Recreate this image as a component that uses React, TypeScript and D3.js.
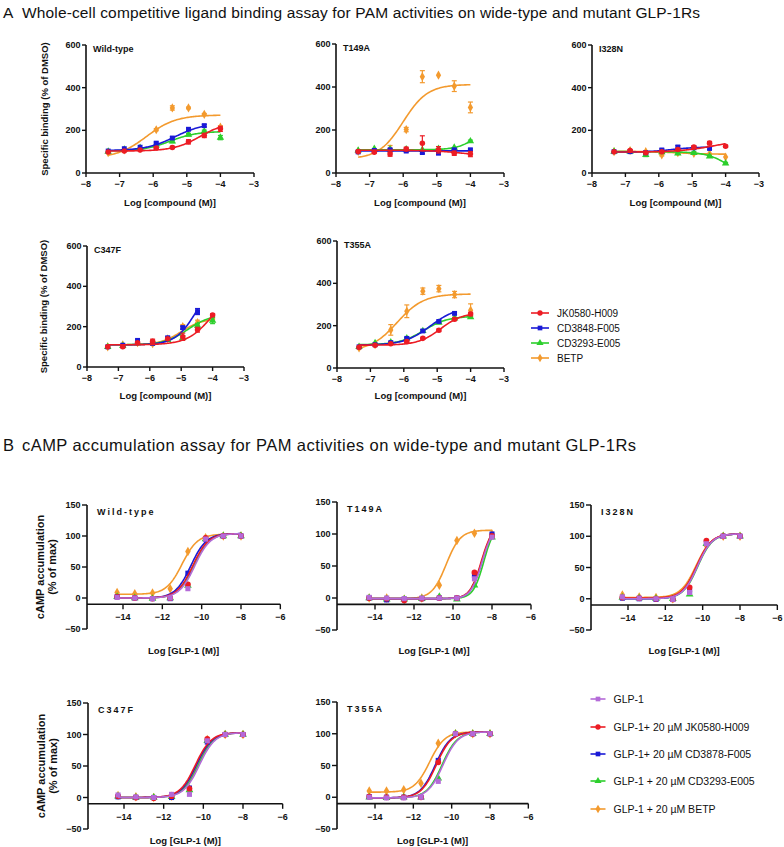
import * as d3 from 'd3'

const FONT = 'Arial, "Liberation Sans", Helvetica, sans-serif'

// ---------- A: whole-cell binding (log [compound]) ----------
const BIND_X = [-7.34, -6.86, -6.39, -5.91, -5.43, -4.95, -4.48, -4.0]
const BIND_NAMES = ['JK0580-H009', 'CD3848-F005', 'CD3293-E005', 'BETP']
const BIND_COLORS = ['#ec1c24', '#1a1ad6', '#2ccf2c', '#f39a2e']
const BIND_SYMBOLS = [d3.symbolCircle, d3.symbolSquare, d3.symbolTriangle, d3.symbolDiamond]
const BIND_Y_TICKS = [0, 200, 400, 600]
const BIND_X_TICKS = [-8, -7, -6, -5, -4, -3]

// rows: JK0580, CD3848, CD3293, BETP ; fits: [bottom, top, logEC50, hill]
const BIND_WT = [
  [98, 103, 108, 117, 120, 146, 176, 207],
  [103, 114, 121, 140, 164, 205, 222, null],
  [100, 110, 118, 130, 148, 180, 195, 166],
  [95, 108, 115, 203, 305, 305, 275, 215],
]
const BIND_WT_FIT = [[103, 240, -4.6, 1.1], [105, 235, -5.35, 1], [103, 195, -5.5, 1.1], [70, 272, -6.2, 1]]
const BIND_WT_ERR = [[3, 3, 3, 5, 5, 10, 10, 12], [3, 3, 3, 5, 6, 6, 6, 0], [3, 3, 3, 4, 6, 6, 6, 10], [3, 3, 3, 5, 10, 4, 4, 6]]

const BIND_T149A = [
  [100, 97, 88, 112, 138, 108, 92, 88],
  [98, 105, 108, 102, 95, 92, 108, 108],
  [105, 112, 110, 110, 108, 112, 118, 148],
  [100, 105, 113, 202, 448, 455, 404, 305],
]
const BIND_T149A_FIT = [[106, 80, -4.3, 1], [103, 103, -5, 1], [108, 228, -3.8, 1.5], [65, 412, -6.0, 1.2]]
const BIND_T149A_ERR = [[5, 5, 10, 8, 35, 15, 10, 12], [4, 4, 4, 4, 5, 5, 4, 4], [3, 3, 3, 3, 3, 3, 3, 5], [3, 3, 15, 10, 28, 0, 25, 25]]

const BIND_I328N = [
  [100, 105, 95, 100, 110, 122, 140, 125],
  [100, 100, 95, 108, 122, 118, 115, null],
  [100, 100, 85, 98, 92, 95, 78, 45],
  [100, 105, 100, 85, 95, 92, 90, 75],
]
const BIND_I328N_FIT = [[98, 160, -4.3, 0.8], [98, 122, -5.6, 1.2], [100, -50, -3.8, 1.2], [102, 88, -5.5, 1]]
const BIND_I328N_ERR = [[3, 5, 5, 5, 5, 5, 8, 5], [3, 3, 5, 5, 6, 5, 5, 0], [3, 3, 8, 5, 5, 5, 5, 5], [3, 3, 5, 5, 5, 5, 3, 3]]

const BIND_C347F = [
  [100, 100, 120, 128, 140, 150, 185, 258],
  [100, 108, 132, 118, 145, 195, 275, null],
  [100, 105, 118, 120, 135, 145, 205, 230],
  [100, 110, 120, 115, 140, 200, 220, 240],
]
const BIND_C347F_FIT = [[110, 400, -4.0, 1.1], [110, 450, -4.5, 1.3], [110, 260, -4.8, 1.2], [110, 240, -5.0, 1.3]]
const BIND_C347F_ERR = [[3, 5, 5, 10, 5, 18, 12, 6], [3, 5, 6, 8, 5, 8, 15, 0], [3, 3, 5, 5, 5, 10, 10, 15], [3, 3, 5, 8, 5, 10, 12, 6]]

const BIND_T355A = [
  [98, 108, 115, 125, 140, 178, 230, 255],
  [100, 110, 120, 140, 175, 220, 258, null],
  [100, 118, 122, 140, 175, 215, 235, 240],
  [95, 110, 180, 268, 363, 375, 347, 273],
]
const BIND_T355A_FIT = [[108, 262, -4.9, 1.3], [108, 290, -5.2, 1.1], [110, 245, -5.4, 1.2], [80, 350, -6.2, 1.1]]
const BIND_T355A_ERR = [[3, 3, 3, 5, 5, 6, 6, 8], [3, 3, 4, 5, 6, 6, 6, 0], [3, 3, 3, 5, 5, 5, 5, 5], [5, 5, 25, 30, 15, 15, 15, 30]]

// ---------- B: cAMP accumulation (log [GLP-1]) ----------
const CAMP_X = [-14.3, -13.4, -12.5, -11.6, -10.7, -9.8, -8.9, -8.0]
const CAMP_NAMES = ['GLP-1', 'GLP-1+ 20 µM JK0580-H009', 'GLP-1+ 20 µM CD3878-F005', 'GLP-1 + 20 µM CD3293-E005', 'GLP-1 + 20 µM BETP']
const CAMP_COLORS = ['#b46ad8', '#ec1c24', '#1a1ad6', '#2ccf2c', '#f39a2e']
const CAMP_SYMBOLS = [d3.symbolSquare, d3.symbolCircle, d3.symbolSquare, d3.symbolTriangle, d3.symbolDiamond]
const CAMP_Y_TICKS = [-50, 0, 50, 100, 150]
const CAMP_X_TICKS = [-14, -12, -10, -8, -6]

// rows: GLP-1, JK0580, CD3878, CD3293, BETP
const CAMP_WT = [
  [1, 0, -1, 0, 15, 95, 100, 100],
  [2, 0, -1, 0, 22, 97, 100, 100],
  [2, 0, -1, -1, 40, 95, 100, 100],
  [2, 0, -1, 0, 20, 95, 100, 100],
  [9, 7, 8, 15, 75, 97, 100, 100],
]
const CAMP_WT_FIT = [[0, 104, -10.35, 1.1], [0, 104, -10.45, 1.1], [0, 104, -10.55, 1.1], [0, 104, -10.4, 1.1], [6, 103, -11.0, 1.1]]

const CAMP_T149A = [
  [1, 0, -1, 0, 0, 0, 30, 95],
  [0, -1, -4, -1, 0, 0, 40, 97],
  [0, -3, -2, -1, 0, 0, 35, 100],
  [0, -2, -2, -1, 2, -2, 20, 95],
  [0, 0, -2, 0, 20, 90, 101, 100],
]
const CAMP_T149A_FIT = [[-1, 115, -8.5, 1.5], [-1, 115, -8.55, 1.5], [-1, 115, -8.52, 1.5], [-1, 115, -8.42, 1.6], [-1, 106, -10.35, 1.2]]

const CAMP_I328N = [
  [3, 1, 0, -1, 10, 88, 100, 100],
  [2, 1, 0, -1, 18, 93, 100, 100],
  [1, 0, -1, -1, 12, 90, 100, 100],
  [2, 1, 0, 0, 7, 88, 100, 100],
  [6, 3, 2, 0, 12, 85, 100, 100],
]
const CAMP_I328N_FIT = [[0, 104, -10.28, 1.1], [1, 104, -10.32, 1.1], [0, 104, -10.3, 1.1], [0, 104, -10.26, 1.1], [2, 104, -10.35, 1.05]]

const CAMP_C347F = [
  [4, 1, 0, 5, 5, 90, 100, 100],
  [2, 0, -1, 2, 14, 93, 100, 100],
  [1, 0, 0, 0, 15, 88, 100, 100],
  [2, 0, 0, 1, 12, 90, 100, 100],
  [3, 1, 0, 2, 14, 92, 100, 100],
]
const CAMP_C347F_FIT = [[0, 103, -10.2, 1.1], [0, 103, -10.4, 1.1], [0, 103, -10.35, 1.1], [0, 103, -10.25, 1.1], [0, 103, -10.3, 1.1]]

const CAMP_T355A = [
  [0, -1, -1, 0, 25, 100, 100, 100],
  [1, 0, 0, 0, 55, 100, 100, 100],
  [1, 0, 0, 0, 58, 100, 100, 100],
  [0, -1, 0, 0, 30, 100, 100, 100],
  [10, 10, 12, 22, 85, 100, 100, 100],
]
const CAMP_T355A_FIT = [[-1, 103, -10.45, 1.1], [-1, 103, -10.8, 1.1], [-1, 103, -10.85, 1.1], [-1, 103, -10.5, 1.1], [8, 103, -11.15, 1.1]]

function logistic(f: number[], x: number) {
  const [bottom, top, ec50, hill] = f
  return bottom + (top - bottom) / (1 + Math.pow(10, (ec50 - x) * hill))
}

interface PanelProps {
  xScale: d3.ScaleLinear<number, number>
  yScale: d3.ScaleLinear<number, number>
  axisX: number
  xAxisValue: number
  xTicks: number[]
  yTicks: number[]
  tickLen: number
  tickDy: number
  fontSize: number
  title: string
  titleDx: number
  titleDy: number
  titleSpacing: number
  xLabel: string
  xLabelY: number
  yLabel?: string[]
  yLabelX?: number[]
  yLabelSize?: number
  xValues: number[]
  rows: (number | null)[][]
  fits: number[][]
  errs?: number[][]
  colors: string[]
  symbols: d3.SymbolType[]
  order: number[]
  symSize: number
}

function Panel(p: PanelProps) {
  const x = p.xScale
  const y = p.yScale
  const yTop = y(p.yTicks[p.yTicks.length - 1])
  const yBot = y(p.yTicks[0])
  const axisY = y(p.xAxisValue)
  const xEndPx = x(p.xTicks[p.xTicks.length - 1])
  const mid = (p.axisX + xEndPx) / 2
  const midY = (yTop + yBot) / 2

  return (
    <g fontFamily={FONT} fontWeight="bold" fill="#111">
      {/* fitted curves + points */}
      {p.order.map(si => {
        const row = p.rows[si]
        const xs = p.xValues.filter((_, i) => row[i] != null)
        const lo = d3.min(xs)!
        const hi = d3.max(xs)!
        const samples = d3.range(0, 101).map(k => lo + (hi - lo) * k / 100)
        const path = d3.line<number>()
          .x(d => x(d))
          .y(d => y(logistic(p.fits[si], d)))(samples)
        const sym = d3.symbol().type(p.symbols[si]).size(p.symSize)()
        return (
          <g key={si}>
            <path d={path ?? ''} fill="none" stroke={p.colors[si]} strokeWidth={1.6} />
            {row.map((v, i) => {
              if (v == null) return null
              const cx = x(p.xValues[i])
              const cy = y(v)
              const e = p.errs ? p.errs[si][i] : 0
              return (
                <g key={i}>
                  {e > 3 && (
                    <g stroke={p.colors[si]} strokeWidth={1.2}>
                      <line x1={cx} x2={cx} y1={y(v - e)} y2={y(v + e)} />
                      <line x1={cx - 2.5} x2={cx + 2.5} y1={y(v - e)} y2={y(v - e)} />
                      <line x1={cx - 2.5} x2={cx + 2.5} y1={y(v + e)} y2={y(v + e)} />
                    </g>
                  )}
                  <path d={sym ?? ''} transform={`translate(${cx},${cy})`} fill={p.colors[si]} />
                </g>
              )
            })}
          </g>
        )
      })}

      {/* y axis */}
      <line x1={p.axisX} x2={p.axisX} y1={yBot} y2={yTop} stroke="#111" strokeWidth={1.6} />
      {p.yTicks.map(t => (
        <g key={t}>
          <line x1={p.axisX - p.tickLen} x2={p.axisX} y1={y(t)} y2={y(t)} stroke="#111" strokeWidth={1.4} />
          <text x={p.axisX - p.tickLen - 1.5} y={y(t)} dy="0.35em" textAnchor="end" fontSize={p.fontSize}>
            {t < 0 ? `\u2212${Math.abs(t)}` : t}
          </text>
        </g>
      ))}

      {/* x axis */}
      <line x1={p.axisX} x2={xEndPx} y1={axisY} y2={axisY} stroke="#111" strokeWidth={1.6} />
      {p.xTicks.map(t => (
        <g key={t}>
          <line x1={x(t)} x2={x(t)} y1={axisY} y2={axisY + p.tickLen} stroke="#111" strokeWidth={1.4} />
          <text x={x(t)} y={axisY + p.tickDy} textAnchor="middle" fontSize={p.fontSize}>
            {`\u2212${Math.abs(t)}`}
          </text>
        </g>
      ))}

      <text x={p.axisX + p.titleDx} y={yTop + p.titleDy} fontSize={p.fontSize} letterSpacing={p.titleSpacing}>
        {p.title}
      </text>
      <text x={mid} y={p.xLabelY} textAnchor="middle" fontSize={p.fontSize + 0.5}>
        {p.xLabel}
      </text>
      {p.yLabel && p.yLabelX && p.yLabel.map((s, i) => (
        <text key={i} transform={`translate(${p.yLabelX![i]},${midY}) rotate(-90)`} dy="0.35em"
          textAnchor="middle" fontSize={p.yLabelSize ?? p.fontSize + 0.5}>
          {s}
        </text>
      ))}
    </g>
  )
}

function bindPanel(key: string, x0: number, x1: number, y0: number, y1: number, title: string,
  rows: (number | null)[][], fits: number[][], errs: number[][], xLabelY: number, yLabelX?: number, titleDy = 6.5) {
  const xScale = d3.scaleLinear().domain([-8, -3]).range([x0, x1])
  const yScale = d3.scaleLinear().domain([0, 600]).range([y0, y1])
  return (
    <Panel key={key} xScale={xScale} yScale={yScale} axisX={x0} xAxisValue={0}
      xTicks={BIND_X_TICKS} yTicks={BIND_Y_TICKS} tickLen={4} tickDy={14} fontSize={9}
      title={title} titleDx={7} titleDy={titleDy} titleSpacing={0}
      xLabel="Log [compound (M)]" xLabelY={xLabelY}
      yLabel={yLabelX ? ['Specific binding (% of DMSO)'] : undefined}
      yLabelX={yLabelX ? [yLabelX] : undefined}
      xValues={BIND_X} rows={rows} fits={fits} errs={errs}
      colors={BIND_COLORS} symbols={BIND_SYMBOLS} order={[3, 2, 1, 0]} symSize={24} />
  )
}

function campPanel(key: string, axisX: number, p14: number, p8: number, y150: number, yM50: number,
  title: string, rows: (number | null)[][], fits: number[][], xLabelY: number, showY: boolean) {
  const xScale = d3.scaleLinear().domain([-14, -8]).range([p14, p8])
  const yScale = d3.scaleLinear().domain([-50, 150]).range([yM50, y150])
  return (
    <Panel key={key} xScale={xScale} yScale={yScale} axisX={axisX} xAxisValue={-10}
      xTicks={CAMP_X_TICKS} yTicks={CAMP_Y_TICKS} tickLen={5} tickDy={16} fontSize={9}
      title={title} titleDx={10} titleDy={10} titleSpacing={2}
      xLabel="Log [GLP-1 (M)]" xLabelY={xLabelY}
      yLabel={showY ? ['cAMP accumulation', '(% of max)'] : undefined}
      yLabelX={showY ? [axisX - 47, axisX - 35] : undefined} yLabelSize={11}
      xValues={CAMP_X} rows={rows} fits={fits}
      colors={CAMP_COLORS} symbols={CAMP_SYMBOLS} order={[4, 3, 2, 1, 0]} symSize={26} />
  )
}

function Legend({ x, ys, names, colors, symbols, len, fontSize }: {
  x: number; ys: number[]; names: string[]; colors: string[]; symbols: d3.SymbolType[]; len: number; fontSize: number
}) {
  return (
    <g fontFamily={FONT}>
      {names.map((n, i) => (
        <g key={n} transform={`translate(${x},${ys[i]})`}>
          <line x1={-len / 2} x2={len / 2} y1={0} y2={0} stroke={colors[i]} strokeWidth={1.6} />
          <path d={d3.symbol().type(symbols[i]).size(22)() ?? ''} fill={colors[i]} />
          <text x={len / 2 + 8} y={0} dy="0.35em" fontSize={fontSize} fill="#111">{n}</text>
        </g>
      ))}
    </g>
  )
}

export default function App() {
  return (
    <svg width={784} height={847} style={{ position: 'absolute', left: 0, top: 0, background: '#fff' }}>
      <rect width={784} height={847} fill="#fff" />
      <g fontFamily={FONT} fontSize={15.5} fill="#111">
        <text x={3} y={18}>A</text>
        <text x={22} y={18} textLength={678} lengthAdjust="spacing">
          Whole-cell competitive ligand binding assay for PAM activities on wide-type and mutant GLP-1Rs
        </text>
      </g>

      {bindPanel('a1', 86, 254, 173, 45, 'Wild-type', BIND_WT, BIND_WT_FIT, BIND_WT_ERR, 206, 45)}
      {bindPanel('a2', 336, 504, 173, 44, 'T149A', BIND_T149A, BIND_T149A_FIT, BIND_T149A_ERR, 206)}
      {bindPanel('a3', 592, 759, 173, 45, 'I328N', BIND_I328N, BIND_I328N_FIT, BIND_I328N_ERR, 206)}
      {bindPanel('a4', 87, 244, 367, 246, 'C347F', BIND_C347F, BIND_C347F_FIT, BIND_C347F_ERR, 399, 44, 7)}
      {bindPanel('a5', 337, 504, 368, 241, 'T355A', BIND_T355A, BIND_T355A_FIT, BIND_T355A_ERR, 399, undefined, 7)}

      <Legend x={540} ys={[313, 328, 343, 358]} names={BIND_NAMES} colors={BIND_COLORS}
        symbols={BIND_SYMBOLS} len={18} fontSize={10} />

      <g fontFamily={FONT} fontSize={16.5} fill="#111">
        <text x={3} y={451}>B</text>
        <text x={22} y={451} textLength={614} lengthAdjust="spacing">
          cAMP accumulation assay for PAM activities on wide-type and mutant GLP-1Rs
        </text>
      </g>

      {campPanel('b1', 87, 123, 241, 505, 629, 'Wild-type', CAMP_WT, CAMP_WT_FIT, 654, true)}
      {campPanel('b2', 337, 375, 492, 502, 630, 'T149A', CAMP_T149A, CAMP_T149A_FIT, 654, false)}
      {campPanel('b3', 591, 628, 740, 505, 630, 'I328N', CAMP_I328N, CAMP_I328N_FIT, 654, false)}
      {campPanel('b4', 88, 124, 243, 703, 829, 'C347F', CAMP_C347F, CAMP_C347F_FIT, 844, true)}
      {campPanel('b5', 337, 375, 490, 702, 829, 'T355A', CAMP_T355A, CAMP_T355A_FIT, 844, false)}

      <Legend x={598} ys={[699, 727, 754, 781, 809]} names={CAMP_NAMES} colors={CAMP_COLORS}
        symbols={CAMP_SYMBOLS} len={15} fontSize={10.5} />
    </svg>
  )
}
